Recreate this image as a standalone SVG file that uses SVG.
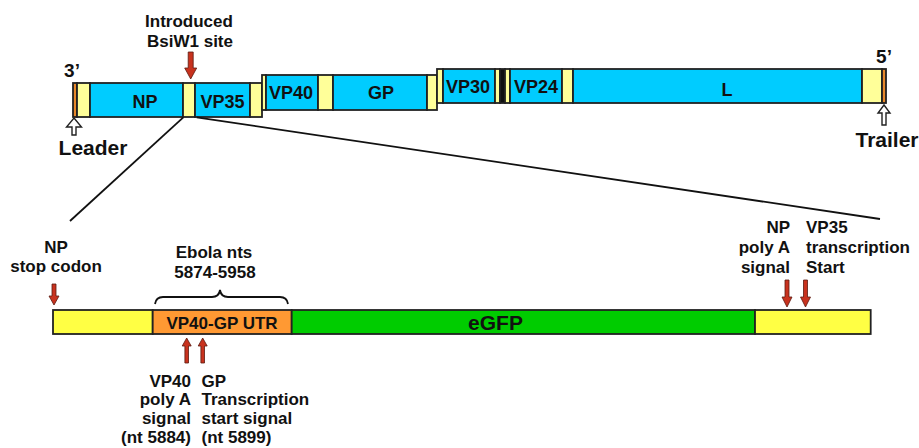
<svg xmlns="http://www.w3.org/2000/svg" width="919" height="448" viewBox="0 0 919 448">
  <style>
    text { font-family: "Liberation Sans", Arial, sans-serif; font-weight: bold; fill: #111; }
    .seg { stroke: #222; stroke-width: 1.8; }
    .blue { fill: #00CCFF; }
    .pale { fill: #FFFF99; }
    .lead { fill: #E8882A; }
    .blk { fill: #111; }
    .ylw { fill: #FFFF44; }
    .org { fill: #FF9933; }
    .grn { fill: #00CC00; }
    .red { fill: #C8321E; stroke: #5A1A10; stroke-width: 0.8; }
    .open { fill: #fff; stroke: #222; stroke-width: 1.4; }
    .lbl { font-size: 18px; text-anchor: middle; }
    .note { font-size: 17px; }
    .link { fill: none; stroke: #111; stroke-width: 1.8; }
  </style>

  <!-- genome map, 3' to 5' -->
  <g id="leader">
    <rect class="seg lead" x="73" y="83" width="4" height="34"/>
    <rect class="seg pale" x="77" y="83" width="13" height="34"/>
    <text x="72" y="77" font-size="19" text-anchor="middle">3’</text>
    <path class="open" d="M74,118 L81.5,127 H76 V135 H72 V127 H66.5 Z"/>
    <text x="93" y="155" font-size="21" text-anchor="middle">Leader</text>
  </g>
  <g id="np">
    <rect class="seg blue" x="90" y="83" width="93" height="34"/>
    <text class="lbl" x="145" y="108">NP</text>
  </g>
  <g id="np-vp35-junction">
    <rect class="seg pale" x="183" y="83" width="12" height="34"/>
  </g>
  <g id="vp35">
    <rect class="seg blue" x="195" y="83" width="55" height="34"/>
    <rect class="seg pale" x="250" y="83" width="12" height="34"/>
    <text class="lbl" x="222.5" y="108">VP35</text>
  </g>
  <g id="vp40">
    <rect class="seg pale" x="262" y="75" width="4" height="35"/>
    <rect class="seg blue" x="266" y="75" width="52" height="35"/>
    <rect class="seg pale" x="318" y="75" width="15" height="35"/>
    <text class="lbl" x="291" y="99">VP40</text>
  </g>
  <g id="gp">
    <rect class="seg blue" x="333" y="75" width="94" height="35"/>
    <rect class="seg pale" x="427" y="75" width="10" height="35"/>
    <text class="lbl" x="381" y="99">GP</text>
  </g>
  <g id="vp30">
    <rect class="seg pale" x="437" y="69" width="6" height="34"/>
    <rect class="seg blue" x="443" y="69" width="52" height="34"/>
    <rect class="seg pale" x="495" y="69" width="5" height="34"/>
    <rect class="seg blk" x="500" y="69" width="5" height="34"/>
    <text class="lbl" x="468" y="93">VP30</text>
  </g>
  <g id="vp24">
    <rect class="seg pale" x="505" y="69" width="5" height="34"/>
    <rect class="seg blue" x="510" y="69" width="52" height="34"/>
    <rect class="seg pale" x="562" y="69" width="11" height="34"/>
    <text class="lbl" x="536" y="93">VP24</text>
  </g>
  <g id="l">
    <rect class="seg blue" x="573" y="69" width="289" height="34"/>
    <rect class="seg pale" x="862" y="69" width="20" height="34"/>
    <text class="lbl" x="727" y="96">L</text>
  </g>
  <g id="trailer">
    <rect class="seg lead" x="882" y="69" width="4" height="34"/>
    <text x="884" y="63" font-size="19" text-anchor="middle">5’</text>
    <path class="open" d="M884,105 L890,113 H886 V125 H882 V113 H878 Z"/>
    <text x="887" y="147" font-size="21" text-anchor="middle">Trailer</text>
  </g>
  <g id="bsiw1-site">
    <text class="note" x="189" y="27" text-anchor="middle" font-size="17.5">Introduced</text>
    <text class="note" x="190" y="47" text-anchor="middle" font-size="17.5">BsiW1 site</text>
    <path class="red" d="M188.2,52 H193.2 V68 H196.7 L190.7,79 L184.7,68 H188.2 Z"/>
  </g>

  <!-- expansion lines from the NP/VP35 junction to the insert -->
  <g id="connectors">
    <line class="link" x1="183.3" y1="117.3" x2="70" y2="221"/>
    <line class="link" x1="196.7" y1="117.3" x2="880" y2="219"/>
  </g>

  <!-- insert detail -->
  <g id="insert-np-end">
    <rect class="seg ylw" x="53" y="310" width="99.7" height="24"/>
    <text class="note" x="56" y="253" text-anchor="middle">NP</text>
    <text class="note" x="56" y="272" text-anchor="middle">stop codon</text>
    <path class="red" d="M52,284 H56 V296 H59 L54,305 L49,296 H52 Z"/>
  </g>
  <g id="utr">
    <rect class="seg org" x="152.7" y="310" width="139" height="24"/>
    <text x="222" y="329" font-size="17" text-anchor="middle">VP40-GP UTR</text>
    <path class="link" d="M155,304 Q156,297 163,297 H212 Q219,297 220,290 Q221,297 228,297 H280 Q287,297 288,304"/>
    <text class="note" x="214" y="258" text-anchor="middle">Ebola nts</text>
    <text class="note" x="215" y="278" text-anchor="middle">5874-5958</text>
    <path class="red" d="M186.7,338 L191.2,346 H188.5 V363 H184.9 V346 H182.2 Z"/>
    <path class="red" d="M202.7,338 L207.2,346 H204.5 V363 H200.9 V346 H198.2 Z"/>
    <text class="note" x="191" y="387" text-anchor="end">VP40</text>
    <text class="note" x="191" y="405" text-anchor="end">poly A</text>
    <text class="note" x="191" y="424" text-anchor="end">signal</text>
    <text class="note" x="191" y="443" text-anchor="end">(nt 5884)</text>
    <text class="note" x="201.5" y="387">GP</text>
    <text class="note" x="201.5" y="405">Transcription</text>
    <text class="note" x="201.5" y="424">start signal</text>
    <text class="note" x="201.5" y="443">(nt 5899)</text>
  </g>
  <g id="egfp">
    <rect class="seg grn" x="291.7" y="310" width="463.3" height="24"/>
    <text x="495.5" y="330" font-size="21" text-anchor="middle">eGFP</text>
  </g>
  <g id="insert-vp35-start">
    <rect class="seg ylw" x="755" y="310" width="115.7" height="24"/>
    <text class="note" x="790" y="233" text-anchor="end">NP</text>
    <text class="note" x="790" y="253" text-anchor="end">poly A</text>
    <text class="note" x="790" y="273" text-anchor="end">signal</text>
    <text class="note" x="806" y="233">VP35</text>
    <text class="note" x="806" y="253">transcription</text>
    <text class="note" x="806" y="273">Start</text>
    <path class="red" d="M785,280 H789 V297 H792 L787,307 L782,297 H785 Z"/>
    <path class="red" d="M803.5,280 H807.5 V297 H810.5 L805.5,307 L800.5,297 H803.5 Z"/>
  </g>
</svg>
